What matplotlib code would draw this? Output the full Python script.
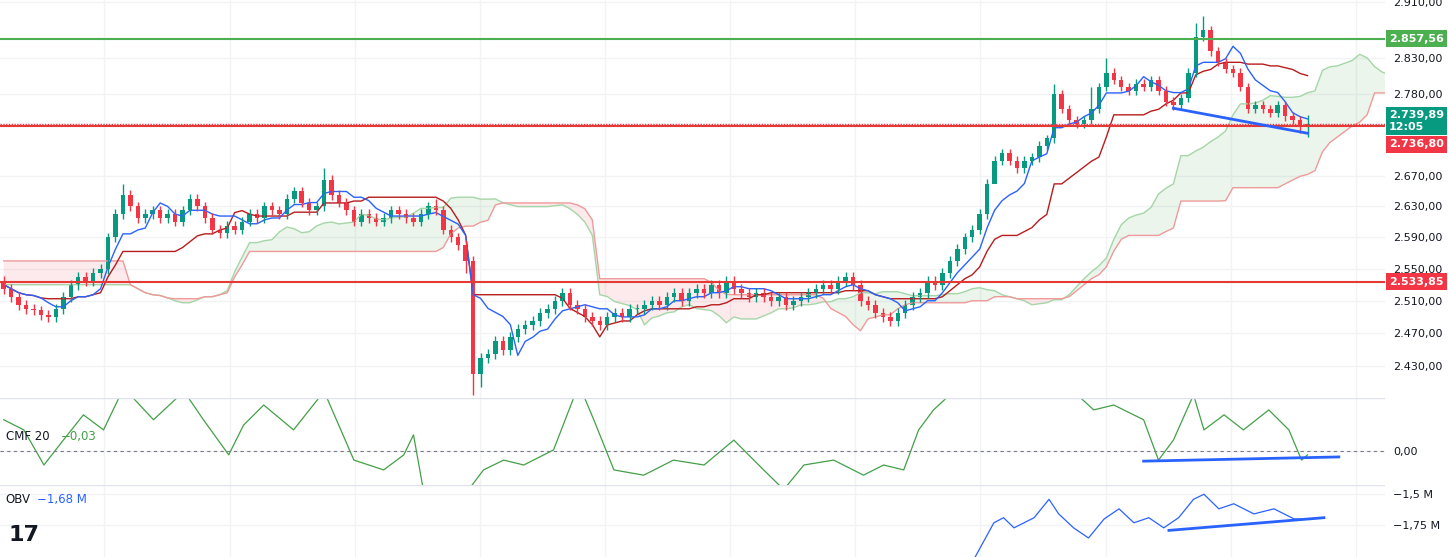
import numpy as np
import pandas as pd
import matplotlib
matplotlib.use("Agg")
import matplotlib.pyplot as plt
from matplotlib.ticker import FixedLocator, NullLocator, FuncFormatter
from matplotlib.patches import Rectangle

# ── data ─────────────────────────────────────────────────────────────────────
closes = [
    2525, 2515, 2505, 2500, 2498, 2492, 2490,
    2500, 2515, 2530, 2540, 2535, 2545, 2550,
    2590, 2620, 2645, 2630,
    2615, 2620, 2625, 2615, 2620, 2610, 2625, 2640, 2630,
    2615, 2600, 2595, 2605, 2600, 2610,
    2620, 2615, 2630, 2625, 2620, 2640, 2650, 2635, 2625, 2630,
    2665, 2645, 2635, 2625,
    2610, 2620, 2615, 2610, 2615, 2625, 2620, 2615, 2610, 2620, 2630,
    2625, 2600, 2590, 2580, 2560,
    2420, 2440, 2445, 2460,
    2450, 2465, 2475, 2480, 2485, 2495, 2500,
    2510, 2520, 2505, 2500, 2490,
    2485, 2480, 2490, 2495, 2490, 2500,
    2500, 2505, 2510, 2505, 2515, 2520, 2510, 2520,
    2525, 2520, 2530, 2520, 2535, 2525, 2520,
    2515, 2520, 2515, 2510, 2515, 2505, 2510,
    2515, 2520, 2525, 2530, 2525, 2535, 2540, 2530,
    2510, 2505, 2495, 2490, 2485, 2495, 2505,
    2515, 2520, 2535, 2530, 2545, 2560,
    2575, 2590, 2600, 2620,
    2660, 2690, 2700, 2690, 2680,
    2690, 2695, 2710, 2720, 2780,
    2760, 2745, 2740, 2745, 2760,
    2790, 2810, 2800,
    2790, 2785, 2795, 2790, 2800, 2785,
    2770, 2765, 2775,
    2810, 2860, 2870, 2840,
    2825, 2815, 2810, 2790,
    2760, 2765, 2760, 2755, 2765, 2750, 2745, 2735,
    2739.89,
]
first_open = 2535
wick = 6
spike_highs = {16: 2660, 43: 2680, 58: 2640, 140: 2725, 141: 2795, 146: 2790,
               148: 2830, 160: 2880, 161: 2890, 175: 2752}
spike_lows = {62: 2545, 63: 2395, 64: 2405, 133: 2675, 175: 2722, 174: 2728}

cmf_idx = [0, 2.7, 5.4, 8, 10.7, 13.4, 16.1, 20.1, 24.2, 26.8, 30.2, 32.2, 34.9, 38.9,
           43, 47, 51, 53.7, 55, 56.4, 59, 61.7, 64.4, 67.1, 69.8, 73.8, 77.2, 79.2,
           81.9, 85.9, 89.9, 94, 98, 102, 104.7, 107.4, 111.4, 115.4, 118.1, 120.8,
           122.8, 124.8, 127.5, 135, 143.6, 146.3, 149, 153, 155, 157, 159.7, 161.1, 163.8,
           166.4, 169.8, 172.5, 174.2, 175]
cmf_vals = [0.089, 0.06, -0.04, 0.031, 0.103, 0.06, 0.18, 0.089, 0.17, 0.089,
            -0.011, 0.074, 0.131, 0.06, 0.17, -0.026, -0.054, -0.011, 0.046,
            -0.12, -0.11, -0.13, -0.054, -0.026, -0.04, 0.003, 0.19, 0.089,
            -0.054, -0.069, -0.026, -0.04, 0.031, -0.054, -0.11, -0.04, -0.026,
            -0.069, -0.04, -0.054, 0.06, 0.117, 0.17, 0.26, 0.17, 0.117, 0.131, 0.089,
            -0.026, 0.031, 0.16, 0.06, 0.103, 0.06, 0.117, 0.06, -0.026, -0.011]

obv_idx = [130.2, 132.9, 134.2, 135.6, 138.3, 140.3, 141.6, 143.6, 145.6, 147.7,
           149.7, 151.7, 153.7, 155.7, 157.7, 159.7, 161.1, 163.1, 165.1, 167.8,
           170.5, 173.2, 175]
obv_vals = [-2.02, -1.73, -1.69, -1.77, -1.69, -1.545, -1.66, -1.77, -1.85, -1.70,
            -1.62, -1.73, -1.69, -1.77, -1.69, -1.545, -1.505, -1.62, -1.58, -1.66,
            -1.62, -1.70, -1.70]

res_green = 2857.56
res_red = 2533.85
last_price = 2739.89
last_red = 2736.80
price_ticks = [2430, 2470, 2510, 2550, 2590, 2630, 2670, 2780, 2830, 2910]

# trend lines drawn on the chart (index, value)
trend_main = [(157, 2761), (175, 2727)]
trend_cmf = [(153, -0.029), (179.2, -0.017)]
trend_obv = [(156.4, -1.79), (177.2, -1.69)]

# ── derived OHLC + ichimoku ──────────────────────────────────────────────────
c = np.array(closes, float)
o = np.r_[first_open, c[:-1]]
h = np.maximum(o, c) + wick
l = np.minimum(o, c) - wick
for k, v in spike_highs.items():
    h[k] = v
for k, v in spike_lows.items():
    l[k] = v
n = len(c)
idx = np.arange(n)

df = pd.DataFrame({"h": h, "l": l})
def mid(p):
    return (df.h.rolling(p, min_periods=1).max() + df.l.rolling(p, min_periods=1).min()) / 2
tenkan = mid(6)
kijun = mid(17)
shift = 17
span_a = ((tenkan + kijun) / 2).values
span_b = mid(35).values
cx = idx + shift
# back-fill the start of the cloud so it begins at the left edge
pre = np.arange(0, shift)
cloud_x = np.r_[pre, cx]
sa = np.r_[np.full(shift, span_a[0]), span_a]
sb = np.r_[np.full(shift, span_b[0] + 30), span_b]

UP, DN = "#089981", "#f23645"
fig = plt.figure(figsize=(14.48, 5.57), dpi=100)
W, H = 1448, 557
axw = 1385 / W
ax = fig.add_axes([0, (H - 398) / H, axw, 398 / H])
ax2 = fig.add_axes([0, (H - 485) / H, axw, 87 / H], sharex=ax)
ax3 = fig.add_axes([0, 0, axw, 72 / H], sharex=ax)

# cloud
ax.fill_between(cloud_x, sa, sb, where=sa >= sb, color="#43a047", alpha=0.1, interpolate=True, lw=0)
ax.fill_between(cloud_x, sa, sb, where=sa < sb, color="#f23645", alpha=0.1, interpolate=True, lw=0)
ax.plot(cloud_x, sa, color="#a5d6a7", lw=1)
ax.plot(cloud_x, sb, color="#ef9a9a", lw=1)
ax.plot(idx, kijun, color="#b71c1c", lw=1)
ax.plot(idx, tenkan, color="#2962ff", lw=1)

# candles
bw = 0.6
for i in range(n):
    col = UP if c[i] >= o[i] else DN
    ax.vlines(i, l[i], h[i], color=col, lw=1)
    lo, hi = min(o[i], c[i]), max(o[i], c[i])
    if hi - lo < 1.5:
        hi = lo + 1.5
    ax.add_patch(Rectangle((i - bw / 2, lo), bw, hi - lo, color=col, lw=0))

ax.axhline(res_green, color="#4caf50", lw=1.5)
ax.axhline(res_red, color="#e53935", lw=1.5)
ax.axhline(last_red, color="#e53935", lw=1.5)
ax.axhline(last_price, color="#f23645", lw=1, ls=(0, (1, 1)))
ax.plot(*zip(*trend_main), color="#2962ff", lw=2)

ax.set_yscale("log")
ax.set_ylim(2392, 2913)
ax.set_xlim(-0.5, 185.4)
for a in (ax, ax2, ax3):
    a.yaxis.tick_right()
    a.tick_params(axis="y", length=0, labelsize=8, colors="#131722", pad=6)
    a.tick_params(axis="x", length=0, labelbottom=False)
    for s in a.spines.values():
        s.set_visible(False)
    a.set_xticks([13.4, 30.4, 47.2, 63.9, 80.7, 97.5, 114.3, 131.1, 147.9, 164.7, 181.5])
    a.grid(True, color="#f2f3f5", lw=1)
    a.set_axisbelow(True)
ax.yaxis.set_major_locator(FixedLocator(price_ticks))
ax.yaxis.set_minor_locator(NullLocator())
fmt = lambda v, p: f"{v:,.2f}".replace(",", "X").replace(".", ",").replace("X", ".")
ax.yaxis.set_major_formatter(FuncFormatter(fmt))

def tag(axis, y, text, color):
    axis.text(1.0 + 4 / 1385, y, text, transform=axis.get_yaxis_transform(), ha="left",
              va="center", fontsize=8, color="white", fontweight="bold",
              bbox=dict(boxstyle="square,pad=0.3", fc=color, ec="none"))

tag(ax, res_green, "2.857,56", "#4caf50")
tag(ax, res_red, "2.533,85", DN)
tag(ax, last_price * 1.0015, "2.739,89\n12:05", UP)
tag(ax, 2712, "2.736,80", DN)

# CMF
ax2.plot(cmf_idx, cmf_vals, color="#43a047", lw=0.9)
ax2.axhline(0, color="#787b86", lw=0.8, ls=(0, (3, 3)))
ax2.plot(*zip(*trend_cmf), color="#2962ff", lw=2)
ax2.set_ylim(-0.097, 0.151)
ax2.set_yticks([0])
ax2.yaxis.set_major_formatter(FuncFormatter(lambda v, p: "0,00"))
ax2.axhline(0.151, color="#e0e3eb", lw=1)
ax2.text(0.004, 0.56, "CMF 20", transform=ax2.transAxes, fontsize=8.5, color="#131722", va="center")
ax2.text(0.044, 0.56, "−0,03", transform=ax2.transAxes, fontsize=8.5, color="#43a047", va="center")

# OBV
ax3.plot(obv_idx, obv_vals, color="#2962ff", lw=0.9)
ax3.plot(*zip(*trend_obv), color="#2962ff", lw=2)
ax3.set_ylim(-2.0, -1.432)
ax3.set_yticks([-1.5, -1.75])
ax3.yaxis.set_major_formatter(FuncFormatter(lambda v, p: f"{v:.2f}".rstrip("0").replace(".", ",").replace("-", "−") + " M"))
ax3.axhline(-1.432, color="#e0e3eb", lw=1)
ax3.text(0.004, 0.80, "OBV", transform=ax3.transAxes, fontsize=8.5, color="#131722", va="center")
ax3.text(0.027, 0.80, "−1,68 M", transform=ax3.transAxes, fontsize=8.5, color="#2962ff", va="center")
ax3.text(0.006, 0.3, "17", transform=ax3.transAxes, fontsize=16, fontweight="bold", color="#131722", va="center")

fig.savefig("out.png", dpi=100, facecolor="white")
